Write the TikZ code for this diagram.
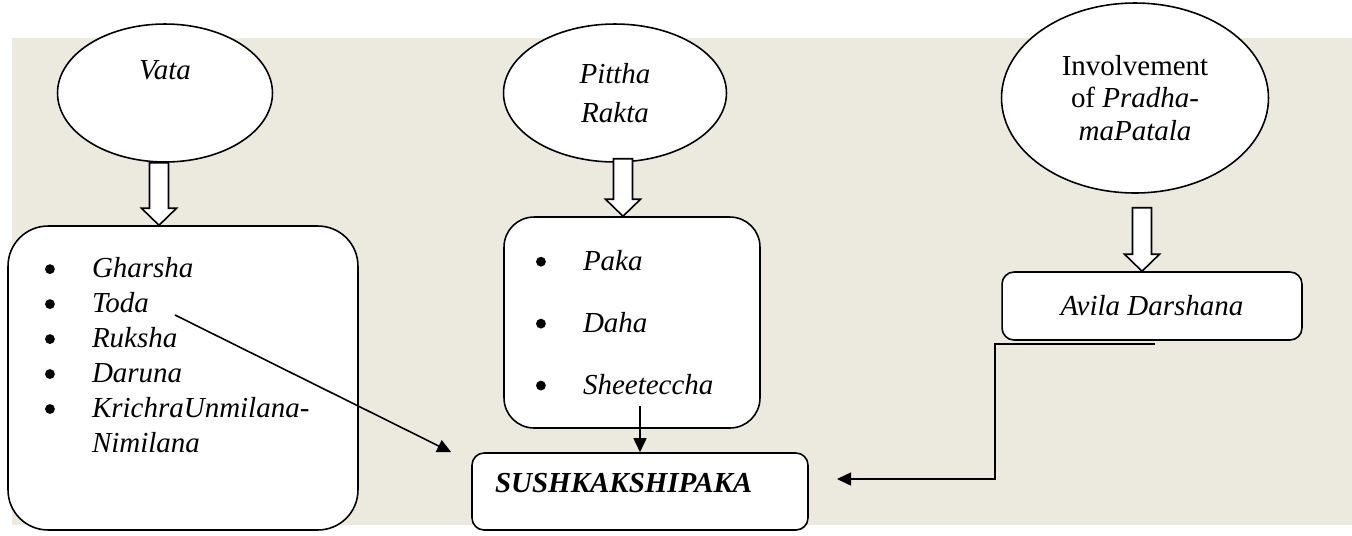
\documentclass[tikz,border=0pt]{standalone}
\usepackage{fontspec}
\setmainfont{Liberation Serif}
\usetikzlibrary{shapes.geometric,arrows.meta,calc}

\definecolor{panelbg}{RGB}{236,233,223}

\tikzset{
  oval/.style={draw, ellipse, fill=white, line width=0.9pt, inner sep=0pt, align=center},
  card/.style={draw, fill=white, line width=0.9pt},
  conn/.style={-{Triangle[length=0.28cm,width=0.26cm]}, line width=0.9pt},
  fatarrow/.style={draw, fill=white, line width=0.9pt},
  every node/.style={font=\fontsize{16.5}{19.9}\selectfont}
}

\newcommand\bul{\makebox[0.94cm][l]{\tikz[baseline=-5pt]\fill (0,0) circle (2.8pt);}}
\newcommand\downblock[2]{%
  \path[fatarrow] let \p1=(#1), \p2=(#2) in
    (\x1-0.19cm,\y1) -- (\x1+0.19cm,\y1) -- (\x1+0.19cm,\y2+0.34cm)
    -- (\x1+0.35cm,\y2+0.34cm) -- (\x1,\y2) -- (\x1-0.35cm,\y2+0.34cm)
    -- (\x1-0.19cm,\y2+0.34cm) -- cycle;}

\begin{document}
\begin{tikzpicture}[x=0.02cm, y=-0.02cm]
  \useasboundingbox (0,0) rectangle (1352,535);
  \fill[panelbg] (12,38) rectangle (1352,525);

  % causes
  \node[oval, minimum width=4.3cm, minimum height=2.76cm] (vata) at (165,93) {\textit{Vata}\\ \strut};
  \node[oval, minimum width=4.46cm, minimum height=2.76cm] (pittha) at (615,93) {\textit{Pittha}\\[0.08cm]\textit{Rakta}};
  \node[oval, minimum width=5.34cm, minimum height=3.8cm, font=\fontsize{16.5}{18.5}\selectfont] (pradhama) at (1135,98)
    {Involvement\\of \textit{Pradha-}\\\textit{maPatala}};

  % symptoms
  \node[card, rounded corners=0.8cm, text width=5.52cm, inner xsep=0.74cm, minimum height=6.08cm, align=left] (vatabox) at (183,378)
    {\bul\textit{Gharsha}\\\bul\textit{Toda}\\\bul\textit{Ruksha}\\\bul\textit{Daruna}\\
     \bul\textit{KrichraUnmilana-}\\\hspace*{0.94cm}\textit{Nimilana}\\ \strut};
  \node[card, rounded corners=0.6cm, text width=3.84cm, inner xsep=0.64cm, minimum height=4.22cm, align=left] (pitthabox) at (632,322.5)
    {\bul\textit{Paka}\\[0.54cm]\bul\textit{Daha}\\[0.54cm]\bul\textit{Sheeteccha}};
  \node[card, rounded corners=0.24cm, minimum width=6cm, minimum height=1.36cm] (avila) at (1152,306) {\textit{Avila Darshana}};

  % result
  \node[card, rounded corners=0.24cm, text width=5.8cm, inner xsep=0.46cm, inner ysep=0pt,
        text height=0.78cm, text depth=0.76cm, align=left] (sushka) at (640,491.5) {\textbf{\textit{SUSHKAKSHIPAKA}}};

  \downblock{$(vata.south)+(-6,0)$}{vata.south |- vatabox.north}
  \downblock{$(pittha.south)+(8,-4)$}{pittha.south |- pitthabox.north}
  \downblock{$(pradhama.south)+(7,14)$}{pradhama.south |- avila.north}

  \coordinate (todaend) at (175,315);
  \coordinate (sheetend) at (640,406);
  \coordinate (avilaout) at (1155,344);
  \coordinate (sushkain) at (837,479);
  \draw[conn] (todaend) -- ([xshift=-0.4cm]sushka.north west);
  \draw[conn] (sheetend) -- (sushka.north);
  \draw[conn] (avilaout) -| (995,479) -- (sushkain);
\end{tikzpicture}
\end{document}
